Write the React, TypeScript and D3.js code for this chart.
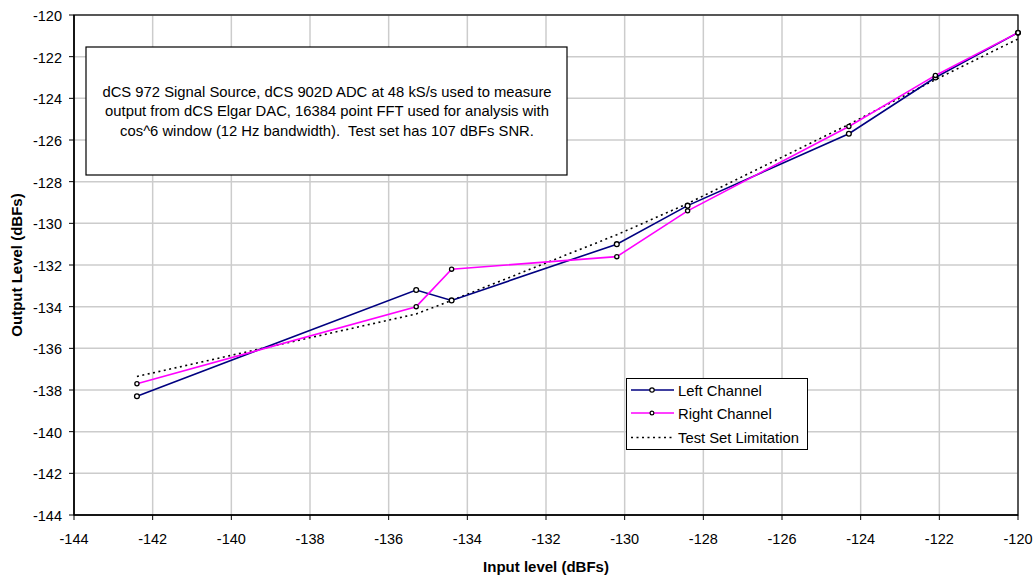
import React from "react";
import * as d3 from "d3";

const inputLevels = [-142.4, -135.3, -134.4, -130.2, -128.4, -124.3, -122.1, -120];
const leftChannel = [-138.3, -133.2, -133.7, -131.0, -129.15, -125.7, -123.0, -120.85];
const rightChannel = [-137.7, -134.0, -132.2, -131.6, -129.4, -125.35, -122.9, -120.85];
const testSetLimit = [-137.35, -134.35, -133.7, -130.55, -129.05, -125.25, -123.1, -121.15];
const xTicks = [-144, -142, -140, -138, -136, -134, -132, -130, -128, -126, -124, -122, -120];
const yTicks = [-144, -142, -140, -138, -136, -134, -132, -130, -128, -126, -124, -122, -120];
const noteLines = [
  "dCS 972 Signal Source, dCS 902D ADC at 48 kS/s used to measure",
  "output from dCS Elgar DAC, 16384 point FFT used for analysis with",
  "cos^6 window (12 Hz bandwidth).  Test set has 107 dBFs SNR.",
];

const W = 1035, H = 578;
const L = 74, R = 1018, T = 15, B = 515;
const font = "Arial, 'Liberation Sans', Helvetica, sans-serif";

export default function App() {
  const x = d3.scaleLinear().domain([-144, -120]).range([L, R]);
  const y = d3.scaleLinear().domain([-144, -120]).range([B, T]);
  const line = (vals: number[]) =>
    d3.line<number>().x((_, i) => x(inputLevels[i])).y((v) => y(v))(vals) || "";

  return (
    <svg width={W} height={H} style={{ position: "absolute", left: 0, top: 0, background: "#fff" }} fontFamily={font}>
      <rect x={0} y={0} width={W} height={H} fill="#fff" />
      {/* grid */}
      {xTicks.map((t) => (
        <line key={"gx" + t} x1={x(t)} x2={x(t)} y1={T} y2={B} stroke="#cccccc" strokeWidth={1.5} />
      ))}
      {yTicks.map((t) => (
        <line key={"gy" + t} x1={L} x2={R} y1={y(t)} y2={y(t)} stroke="#cccccc" strokeWidth={1.5} />
      ))}
      <rect x={L} y={T} width={R - L} height={B - T} fill="none" stroke="#000" strokeWidth={1.2} />
      <line x1={L} x2={L} y1={T} y2={B} stroke="#000" strokeWidth={1.5} />
      <line x1={L} x2={R} y1={B} y2={B} stroke="#000" strokeWidth={1.5} />
      {/* ticks */}
      {yTicks.map((t) => (
        <g key={"ty" + t}>
          <line x1={L - 5} x2={L} y1={y(t)} y2={y(t)} stroke="#000" />
          <text x={62} y={y(t) + 6} textAnchor="end" fontSize={14.5} fill="#000">{t}</text>
        </g>
      ))}
      {xTicks.map((t) => (
        <g key={"tx" + t}>
          <line x1={x(t)} x2={x(t)} y1={B} y2={B + 5} stroke="#000" />
          <text x={x(t)} y={544} textAnchor="middle" fontSize={14.5} fill="#000">{t}</text>
        </g>
      ))}
      {/* axis titles */}
      <text x={546} y={572} textAnchor="middle" fontSize={15} fontWeight="bold">Input level (dBFs)</text>
      <text transform={`translate(22,265) rotate(-90)`} textAnchor="middle" fontSize={15} fontWeight="bold">Output Level (dBFs)</text>
      {/* note box */}
      <rect x={86} y={47} width={481} height={128} fill="#fff" stroke="#000" strokeWidth={1.2} />
      {noteLines.map((s, i) => (
        <text key={i} x={327} y={96.5 + i * 19.5} textAnchor="middle" fontSize={14.8} fill="#000" style={{ whiteSpace: "pre" }}>{s}</text>
      ))}
      {/* series */}
      <path d={line(testSetLimit)} fill="none" stroke="#000" strokeWidth={1.6} strokeDasharray="2,3.5" />
      <path d={line(leftChannel)} fill="none" stroke="#000080" strokeWidth={1.6} />
      <path d={line(rightChannel)} fill="none" stroke="#ff00ff" strokeWidth={1.6} />
      {leftChannel.map((v, i) => (
        <circle key={"lc" + i} cx={x(inputLevels[i])} cy={y(v)} r={2.4} fill="#fff" stroke="#000" strokeWidth={1.3} />
      ))}
      {rightChannel.map((v, i) => (
        <circle key={"rc" + i} cx={x(inputLevels[i])} cy={y(v)} r={2.1} fill="#fff" stroke="#000" strokeWidth={1.3} />
      ))}
      {/* legend */}
      <rect x={626.5} y={378.5} width={181} height={71} fill="#fff" stroke="#000" strokeWidth={1} />
      <line x1={631} x2={674} y1={390} y2={390} stroke="#000080" strokeWidth={1.6} />
      <circle cx={652} cy={390} r={2.2} fill="#fff" stroke="#000" strokeWidth={1.2} />
      <text x={678} y={395.5} fontSize={14.8}>Left Channel</text>
      <line x1={631} x2={674} y1={413} y2={413} stroke="#ff00ff" strokeWidth={1.6} />
      <circle cx={652} cy={413} r={1.9} fill="#fff" stroke="#000" strokeWidth={1.2} />
      <text x={678} y={418.5} fontSize={14.8}>Right Channel</text>
      <line x1={631} x2={674} y1={437.5} y2={437.5} stroke="#000" strokeWidth={1.6} strokeDasharray="2,3.5" />
      <text x={678} y={443} fontSize={14.8}>Test Set Limitation</text>
    </svg>
  );
}
